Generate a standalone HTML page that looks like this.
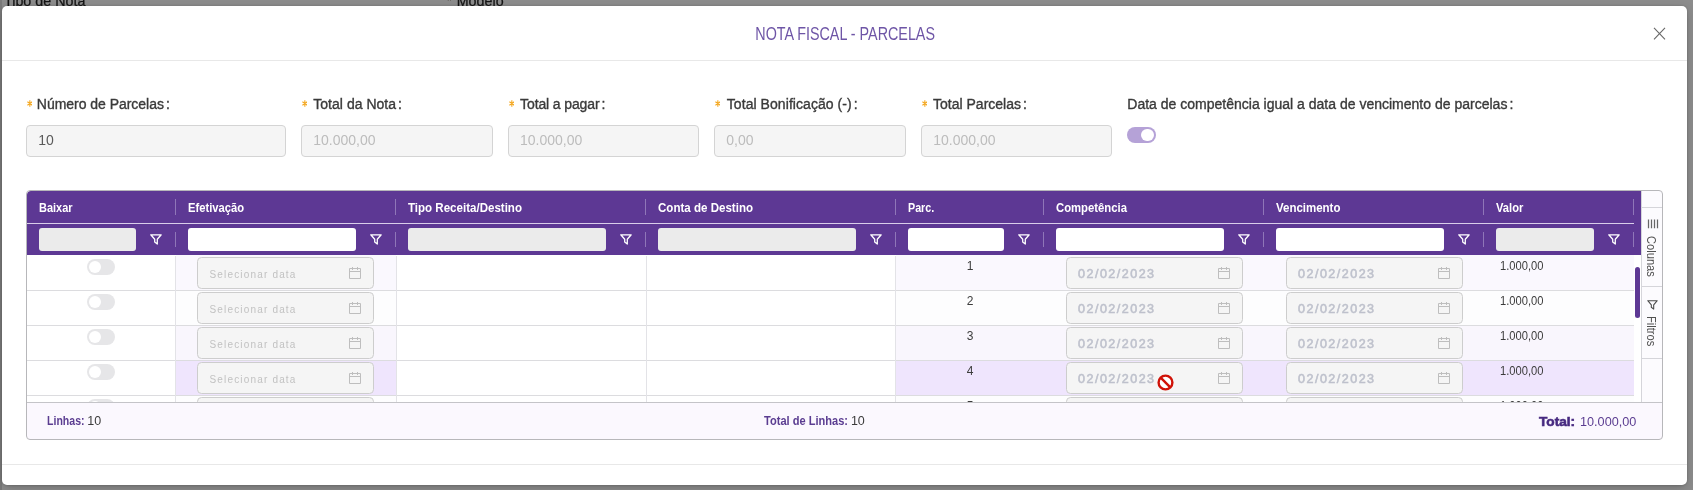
<!DOCTYPE html>
<html><head><meta charset="utf-8"><title>Nota Fiscal - Parcelas</title>
<style>
*{box-sizing:border-box}
html,body{margin:0;padding:0}
body{width:1693px;height:490px;background:#8c8c8c;overflow:hidden;position:relative;font-family:"Liberation Sans",sans-serif;}
.abs{position:absolute}
.bgt{position:absolute;top:-7px;font-size:14.3px;line-height:16px;color:#151515;white-space:nowrap;-webkit-text-stroke:.25px #151515}
.modal{position:absolute;left:2px;top:6px;width:1685px;height:479px;background:#fff;border-radius:5px;box-shadow:0 3px 6px -4px rgba(0,0,0,.2),0 4px 12px 0 rgba(0,0,0,.14),0 0 3px 0 rgba(0,0,0,.18)}
.title{position:absolute;left:0;width:1693px;top:21.7px;margin-left:-1.5px;text-align:center;font-size:19px;color:#6e55a6;white-space:nowrap;line-height:24px}
.title span{display:inline-block;transform:scaleX(.754);transform-origin:50% 50%;letter-spacing:0}
.hline{position:absolute;left:2px;width:1685px;height:1px;background:#e8e8e8}
.lbl{position:absolute;top:96px;font-size:14px;line-height:16px;color:#3a3a3a;white-space:nowrap;-webkit-text-stroke:.35px #3a3a3a}
.lbl i{font-style:normal;color:#f5ab1a;-webkit-text-stroke:0;margin-right:5px;font-size:13px;position:relative;top:1px}
.inp{position:absolute;top:125px;height:32px;border:1px solid #d4d4d4;border-radius:4px;background:#f5f5f5;font-size:14px;line-height:29px;padding-left:11px;color:#bcbcbc}
.grid{position:absolute;left:26px;top:190px;width:1637px;height:250px;border:1px solid #b7b7ba;border-radius:4px;background:transparent}
.hdr{position:absolute;left:26.5px;top:190.5px;width:1614.5px;height:64.5px;background:#5d3894;border-top-left-radius:4px}
.hl{position:absolute;left:27px;top:223px;width:1607px;height:1px;background:#d9cdea}
.ht{position:absolute;top:201px;font-size:12px;line-height:15px;font-weight:bold;color:#fff;white-space:nowrap;transform-origin:0 50%}
.sep{position:absolute;width:1px;background:#8f76b8}
.fi{position:absolute;top:227.5px;height:23.5px;border-radius:3px}
.fn{position:absolute;top:233.5px}
.row{position:absolute;left:27px;width:1607px;height:35px}
.rl{position:absolute;left:27px;width:1607px;height:1px;background:#dcdcdf}
.cell{position:absolute;top:0;height:35px}
.vl{position:absolute;width:1px;background:#e3e3e7}
.sw{position:absolute;left:60px;top:4px;width:28px;height:16px;border-radius:8px;background:#e6e6e8}
.sw:after{content:"";position:absolute;left:1.7px;top:1.7px;width:12.6px;height:12.6px;border-radius:50%;background:#fff}
.dp{position:absolute;top:2px;width:177px;height:32px;border:1px solid #cdcdcd;border-radius:4.5px;background:#f5f5f5;white-space:nowrap}
.dp span{position:absolute;left:11.5px;top:10.4px;font-size:10px;line-height:14px;letter-spacing:1.17px;color:#c2c2c2}
.dp b{position:absolute;left:11px;top:9px;font-size:12.5px;line-height:14px;letter-spacing:1.5px;color:#bec1cc;font-weight:normal;-webkit-text-stroke:.55px #bec1cc}
.cal{position:absolute;left:151px;top:9px}
.num{position:absolute;font-size:12px;line-height:14px;color:#3c3c3c;top:4px;white-space:nowrap;transform-origin:0 50%}
.sb{position:absolute;left:26.5px;top:402px;width:1636px;height:37.5px;background:#fbf8fe;border-top:1px solid #c4c4c8;border-radius:0 0 4px 4px}
.st{position:absolute;top:414px;font-size:12.5px;line-height:15px;white-space:nowrap;transform-origin:0 50%}
.side{position:absolute;left:1641px;top:191px;width:21px;height:211px;background:#fcfbfe;border-left:1px solid #d5d5da}
.vt{position:absolute;font-size:12.5px;line-height:14px;color:#525252;white-space:nowrap;transform-origin:0 0;transform:rotate(90deg) scaleX(.89)}
#wrap{position:absolute;left:0;top:0;width:1693px;height:490px;will-change:transform}
</style></head><body>
<div id="wrap">
<div class="bgt" style="left:4px">Tipo de Nota</div>
<div class="bgt" style="left:446.5px;color:#8a600f;top:-8px">*</div><div class="bgt" style="left:456.7px">Modelo</div>
<div class="abs" style="left:0;top:0;width:2px;height:490px;background:#7a7a7a"></div>
<div class="modal"></div>
<div class="title"><span>NOTA FISCAL - PARCELAS</span></div>
<svg class="abs" style="left:1653px;top:26.5px" width="13" height="13" viewBox="0 0 13 13"><path d="M1 0.8 L12 12.4 M12 0.8 L1 12.4" stroke="#686868" stroke-width="1.1" fill="none"/></svg>
<div class="hline" style="top:60px"></div>
<div class="hline" style="top:464px"></div>

<svg class="abs" style="left:26.75px;top:99.8px" width="5.7" height="7" viewBox="0 0 7 8" preserveAspectRatio="none"><path d="M3.5 0.3 V7.7 M0.5 2 L6.5 6 M6.5 2 L0.5 6" stroke="#f4a71e" stroke-width="1.35" fill="none"/></svg>
<div class="lbl" style="left:36.8px;letter-spacing:-0.03px">Número de Parcelas<span style="margin-left:2px">:</span></div>
<svg class="abs" style="left:301.75px;top:99.8px" width="5.7" height="7" viewBox="0 0 7 8" preserveAspectRatio="none"><path d="M3.5 0.3 V7.7 M0.5 2 L6.5 6 M6.5 2 L0.5 6" stroke="#f4a71e" stroke-width="1.35" fill="none"/></svg>
<div class="lbl" style="left:313.3px;letter-spacing:0.02px">Total da Nota<span style="margin-left:2px">:</span></div>
<svg class="abs" style="left:508.5px;top:99.8px" width="5.7" height="7" viewBox="0 0 7 8" preserveAspectRatio="none"><path d="M3.5 0.3 V7.7 M0.5 2 L6.5 6 M6.5 2 L0.5 6" stroke="#f4a71e" stroke-width="1.35" fill="none"/></svg>
<div class="lbl" style="left:520.0999999999999px;letter-spacing:-0.12px">Total a pagar<span style="margin-left:2px">:</span></div>
<svg class="abs" style="left:714.75px;top:99.8px" width="5.7" height="7" viewBox="0 0 7 8" preserveAspectRatio="none"><path d="M3.5 0.3 V7.7 M0.5 2 L6.5 6 M6.5 2 L0.5 6" stroke="#f4a71e" stroke-width="1.35" fill="none"/></svg>
<div class="lbl" style="left:726.8px;letter-spacing:0.06px">Total Bonificação (-)<span style="margin-left:2px">:</span></div>
<svg class="abs" style="left:921.75px;top:99.8px" width="5.7" height="7" viewBox="0 0 7 8" preserveAspectRatio="none"><path d="M3.5 0.3 V7.7 M0.5 2 L6.5 6 M6.5 2 L0.5 6" stroke="#f4a71e" stroke-width="1.35" fill="none"/></svg>
<div class="lbl" style="left:933.05px;letter-spacing:0.0px">Total Parcelas<span style="margin-left:2px">:</span></div>
<div class="lbl" style="left:1127.3px;letter-spacing:0.005px">Data de competência igual a data de vencimento de parcelas<span style="margin-left:2px">:</span></div>
<div class="inp" style="left:26.25px;width:260px;color:#5a5a5a">10</div>
<div class="inp" style="left:301.25px;width:191.5px">10.000,00</div>
<div class="inp" style="left:508px;width:191px">10.000,00</div>
<div class="inp" style="left:714.25px;width:191.5px">0,00</div>
<div class="inp" style="left:921.25px;width:190.75px">10.000,00</div>
<div class="abs" style="left:1127px;top:127px;width:28.5px;height:16px;border-radius:8px;background:#b5a2d7"><div class="abs" style="right:1.7px;top:1.7px;width:12.6px;height:12.6px;border-radius:50%;background:#fff"></div></div>
<div class="row" style="top:255px;height:35px;overflow:hidden;">
<div class="cell" style="left:0px;width:149px;background:#fff">
<div class="sw"></div>
</div>
<div class="cell" style="left:149px;width:220px;background:#faf8fe">
<div class="dp" style="left:21px"><span>Selecionar data</span><svg class="cal" width="12" height="12" viewBox="0 0 12 12"><path d="M0.5 1.5 H11.5 V11.5 H0.5 Z M0.5 4.5 H11.5 M3.5 0 V3 M8.5 0 V3" fill="none" stroke="#bebebe" stroke-width="1"/></svg></div>
</div>
<div class="cell" style="left:369px;width:250px;background:#fff">
</div>
<div class="cell" style="left:619px;width:250px;background:#fff">
</div>
<div class="cell" style="left:869px;width:148px;background:#faf8fe">
<div class="num" style="left:0;width:148px;text-align:center">1</div>
</div>
<div class="cell" style="left:1017px;width:220px;background:#faf8fe">
<div class="dp" style="left:22px"><b>02/02/2023</b><svg class="cal" width="12" height="12" viewBox="0 0 12 12"><path d="M0.5 1.5 H11.5 V11.5 H0.5 Z M0.5 4.5 H11.5 M3.5 0 V3 M8.5 0 V3" fill="none" stroke="#bebebe" stroke-width="1"/></svg></div>
</div>
<div class="cell" style="left:1237px;width:220px;background:#faf8fe">
<div class="dp" style="left:22px"><b>02/02/2023</b><svg class="cal" width="12" height="12" viewBox="0 0 12 12"><path d="M0.5 1.5 H11.5 V11.5 H0.5 Z M0.5 4.5 H11.5 M3.5 0 V3 M8.5 0 V3" fill="none" stroke="#bebebe" stroke-width="1"/></svg></div>
</div>
<div class="cell" style="left:1457px;width:150px;background:#faf8fe">
<div class="num" style="left:15.8px;transform:scaleX(.93)">1.000,00</div>
</div>
</div>
<div class="row" style="top:290px;height:35px;overflow:hidden;">
<div class="cell" style="left:0px;width:149px;background:#fff">
<div class="sw"></div>
</div>
<div class="cell" style="left:149px;width:220px;background:#fdfdfe">
<div class="dp" style="left:21px"><span>Selecionar data</span><svg class="cal" width="12" height="12" viewBox="0 0 12 12"><path d="M0.5 1.5 H11.5 V11.5 H0.5 Z M0.5 4.5 H11.5 M3.5 0 V3 M8.5 0 V3" fill="none" stroke="#bebebe" stroke-width="1"/></svg></div>
</div>
<div class="cell" style="left:369px;width:250px;background:#fff">
</div>
<div class="cell" style="left:619px;width:250px;background:#fff">
</div>
<div class="cell" style="left:869px;width:148px;background:#fdfdfe">
<div class="num" style="left:0;width:148px;text-align:center">2</div>
</div>
<div class="cell" style="left:1017px;width:220px;background:#fdfdfe">
<div class="dp" style="left:22px"><b>02/02/2023</b><svg class="cal" width="12" height="12" viewBox="0 0 12 12"><path d="M0.5 1.5 H11.5 V11.5 H0.5 Z M0.5 4.5 H11.5 M3.5 0 V3 M8.5 0 V3" fill="none" stroke="#bebebe" stroke-width="1"/></svg></div>
</div>
<div class="cell" style="left:1237px;width:220px;background:#fdfdfe">
<div class="dp" style="left:22px"><b>02/02/2023</b><svg class="cal" width="12" height="12" viewBox="0 0 12 12"><path d="M0.5 1.5 H11.5 V11.5 H0.5 Z M0.5 4.5 H11.5 M3.5 0 V3 M8.5 0 V3" fill="none" stroke="#bebebe" stroke-width="1"/></svg></div>
</div>
<div class="cell" style="left:1457px;width:150px;background:#fdfdfe">
<div class="num" style="left:15.8px;transform:scaleX(.93)">1.000,00</div>
</div>
</div>
<div class="row" style="top:325px;height:35px;overflow:hidden;">
<div class="cell" style="left:0px;width:149px;background:#fff">
<div class="sw"></div>
</div>
<div class="cell" style="left:149px;width:220px;background:#f9f6fd">
<div class="dp" style="left:21px"><span>Selecionar data</span><svg class="cal" width="12" height="12" viewBox="0 0 12 12"><path d="M0.5 1.5 H11.5 V11.5 H0.5 Z M0.5 4.5 H11.5 M3.5 0 V3 M8.5 0 V3" fill="none" stroke="#bebebe" stroke-width="1"/></svg></div>
</div>
<div class="cell" style="left:369px;width:250px;background:#fff">
</div>
<div class="cell" style="left:619px;width:250px;background:#fff">
</div>
<div class="cell" style="left:869px;width:148px;background:#f9f6fd">
<div class="num" style="left:0;width:148px;text-align:center">3</div>
</div>
<div class="cell" style="left:1017px;width:220px;background:#f9f6fd">
<div class="dp" style="left:22px"><b>02/02/2023</b><svg class="cal" width="12" height="12" viewBox="0 0 12 12"><path d="M0.5 1.5 H11.5 V11.5 H0.5 Z M0.5 4.5 H11.5 M3.5 0 V3 M8.5 0 V3" fill="none" stroke="#bebebe" stroke-width="1"/></svg></div>
</div>
<div class="cell" style="left:1237px;width:220px;background:#f9f6fd">
<div class="dp" style="left:22px"><b>02/02/2023</b><svg class="cal" width="12" height="12" viewBox="0 0 12 12"><path d="M0.5 1.5 H11.5 V11.5 H0.5 Z M0.5 4.5 H11.5 M3.5 0 V3 M8.5 0 V3" fill="none" stroke="#bebebe" stroke-width="1"/></svg></div>
</div>
<div class="cell" style="left:1457px;width:150px;background:#f9f6fd">
<div class="num" style="left:15.8px;transform:scaleX(.93)">1.000,00</div>
</div>
</div>
<div class="row" style="top:360px;height:35px;overflow:hidden;">
<div class="cell" style="left:0px;width:149px;background:#fff">
<div class="sw"></div>
</div>
<div class="cell" style="left:149px;width:220px;background:#efe5fd">
<div class="dp" style="left:21px"><span>Selecionar data</span><svg class="cal" width="12" height="12" viewBox="0 0 12 12"><path d="M0.5 1.5 H11.5 V11.5 H0.5 Z M0.5 4.5 H11.5 M3.5 0 V3 M8.5 0 V3" fill="none" stroke="#bebebe" stroke-width="1"/></svg></div>
</div>
<div class="cell" style="left:369px;width:250px;background:#fff">
</div>
<div class="cell" style="left:619px;width:250px;background:#fff">
</div>
<div class="cell" style="left:869px;width:148px;background:#efe5fd">
<div class="num" style="left:0;width:148px;text-align:center">4</div>
</div>
<div class="cell" style="left:1017px;width:220px;background:#efe5fd">
<div class="dp" style="left:22px"><b>02/02/2023</b><svg class="cal" width="12" height="12" viewBox="0 0 12 12"><path d="M0.5 1.5 H11.5 V11.5 H0.5 Z M0.5 4.5 H11.5 M3.5 0 V3 M8.5 0 V3" fill="none" stroke="#bebebe" stroke-width="1"/></svg></div>
</div>
<div class="cell" style="left:1237px;width:220px;background:#efe5fd">
<div class="dp" style="left:22px"><b>02/02/2023</b><svg class="cal" width="12" height="12" viewBox="0 0 12 12"><path d="M0.5 1.5 H11.5 V11.5 H0.5 Z M0.5 4.5 H11.5 M3.5 0 V3 M8.5 0 V3" fill="none" stroke="#bebebe" stroke-width="1"/></svg></div>
</div>
<div class="cell" style="left:1457px;width:150px;background:#efe5fd">
<div class="num" style="left:15.8px;transform:scaleX(.93)">1.000,00</div>
</div>
</div>
<div class="row" style="top:395px;height:7px;overflow:hidden;">
<div class="cell" style="left:0px;width:149px;background:#fff">
<div class="sw"></div>
</div>
<div class="cell" style="left:149px;width:220px;background:#fdfdfe">
<div class="dp" style="left:21px"><span>Selecionar data</span><svg class="cal" width="12" height="12" viewBox="0 0 12 12"><path d="M0.5 1.5 H11.5 V11.5 H0.5 Z M0.5 4.5 H11.5 M3.5 0 V3 M8.5 0 V3" fill="none" stroke="#bebebe" stroke-width="1"/></svg></div>
</div>
<div class="cell" style="left:369px;width:250px;background:#fff">
</div>
<div class="cell" style="left:619px;width:250px;background:#fff">
</div>
<div class="cell" style="left:869px;width:148px;background:#fdfdfe">
<div class="num" style="left:0;width:148px;text-align:center">5</div>
</div>
<div class="cell" style="left:1017px;width:220px;background:#fdfdfe">
<div class="dp" style="left:22px"><b>02/02/2023</b><svg class="cal" width="12" height="12" viewBox="0 0 12 12"><path d="M0.5 1.5 H11.5 V11.5 H0.5 Z M0.5 4.5 H11.5 M3.5 0 V3 M8.5 0 V3" fill="none" stroke="#bebebe" stroke-width="1"/></svg></div>
</div>
<div class="cell" style="left:1237px;width:220px;background:#fdfdfe">
<div class="dp" style="left:22px"><b>02/02/2023</b><svg class="cal" width="12" height="12" viewBox="0 0 12 12"><path d="M0.5 1.5 H11.5 V11.5 H0.5 Z M0.5 4.5 H11.5 M3.5 0 V3 M8.5 0 V3" fill="none" stroke="#bebebe" stroke-width="1"/></svg></div>
</div>
<div class="cell" style="left:1457px;width:150px;background:#fdfdfe">
<div class="num" style="left:15.8px;transform:scaleX(.93)">1.000,00</div>
</div>
</div>
<div class="rl" style="top:290px"></div>
<div class="rl" style="top:325px"></div>
<div class="rl" style="top:360px"></div>
<div class="rl" style="top:395px"></div>
<div class="vl" style="left:175px;top:256px;height:146px"></div>
<div class="vl" style="left:396px;top:256px;height:146px"></div>
<div class="vl" style="left:646px;top:256px;height:146px"></div>
<div class="vl" style="left:895px;top:256px;height:146px"></div>
<div class="hdr"></div><div class="hl"></div>
<div class="ht" style="left:38.6px;transform:scaleX(0.913)">Baixar</div>
<div class="sep" style="left:175px;top:199px;height:16px"></div>
<div class="sep" style="left:175px;top:232px;height:15px"></div>
<div class="fi" style="left:39px;width:97px;background:#ebebeb"></div>
<svg class="fn" style="left:150px" width="12" height="11" viewBox="0 0 12 11"><path d="M0.8 0.8 H11.2 L7.3 5.3 V10 L4.7 8 V5.3 Z" fill="none" stroke="#fff" stroke-width="1.3" stroke-linejoin="round"/></svg>
<div class="ht" style="left:187.6px;transform:scaleX(0.933)">Efetivação</div>
<div class="sep" style="left:395px;top:199px;height:16px"></div>
<div class="sep" style="left:395px;top:232px;height:15px"></div>
<div class="fi" style="left:188px;width:168px;background:#fff"></div>
<svg class="fn" style="left:370px" width="12" height="11" viewBox="0 0 12 11"><path d="M0.8 0.8 H11.2 L7.3 5.3 V10 L4.7 8 V5.3 Z" fill="none" stroke="#fff" stroke-width="1.3" stroke-linejoin="round"/></svg>
<div class="ht" style="left:407.6px;transform:scaleX(0.962)">Tipo Receita/Destino</div>
<div class="sep" style="left:645px;top:199px;height:16px"></div>
<div class="sep" style="left:645px;top:232px;height:15px"></div>
<div class="fi" style="left:408px;width:198px;background:#ebebeb"></div>
<svg class="fn" style="left:620px" width="12" height="11" viewBox="0 0 12 11"><path d="M0.8 0.8 H11.2 L7.3 5.3 V10 L4.7 8 V5.3 Z" fill="none" stroke="#fff" stroke-width="1.3" stroke-linejoin="round"/></svg>
<div class="ht" style="left:657.6px;transform:scaleX(0.963)">Conta de Destino</div>
<div class="sep" style="left:895px;top:199px;height:16px"></div>
<div class="sep" style="left:895px;top:232px;height:15px"></div>
<div class="fi" style="left:658px;width:198px;background:#ebebeb"></div>
<svg class="fn" style="left:870px" width="12" height="11" viewBox="0 0 12 11"><path d="M0.8 0.8 H11.2 L7.3 5.3 V10 L4.7 8 V5.3 Z" fill="none" stroke="#fff" stroke-width="1.3" stroke-linejoin="round"/></svg>
<div class="ht" style="left:907.6px;transform:scaleX(0.894)">Parc.</div>
<div class="sep" style="left:1043px;top:199px;height:16px"></div>
<div class="sep" style="left:1043px;top:232px;height:15px"></div>
<div class="fi" style="left:908px;width:96px;background:#fff"></div>
<svg class="fn" style="left:1018px" width="12" height="11" viewBox="0 0 12 11"><path d="M0.8 0.8 H11.2 L7.3 5.3 V10 L4.7 8 V5.3 Z" fill="none" stroke="#fff" stroke-width="1.3" stroke-linejoin="round"/></svg>
<div class="ht" style="left:1055.6px;transform:scaleX(0.942)">Competência</div>
<div class="sep" style="left:1263px;top:199px;height:16px"></div>
<div class="sep" style="left:1263px;top:232px;height:15px"></div>
<div class="fi" style="left:1056px;width:168px;background:#fff"></div>
<svg class="fn" style="left:1238px" width="12" height="11" viewBox="0 0 12 11"><path d="M0.8 0.8 H11.2 L7.3 5.3 V10 L4.7 8 V5.3 Z" fill="none" stroke="#fff" stroke-width="1.3" stroke-linejoin="round"/></svg>
<div class="ht" style="left:1275.6px;transform:scaleX(0.957)">Vencimento</div>
<div class="sep" style="left:1483px;top:199px;height:16px"></div>
<div class="sep" style="left:1483px;top:232px;height:15px"></div>
<div class="fi" style="left:1276px;width:168px;background:#fff"></div>
<svg class="fn" style="left:1458px" width="12" height="11" viewBox="0 0 12 11"><path d="M0.8 0.8 H11.2 L7.3 5.3 V10 L4.7 8 V5.3 Z" fill="none" stroke="#fff" stroke-width="1.3" stroke-linejoin="round"/></svg>
<div class="ht" style="left:1495.6px;transform:scaleX(0.93)">Valor</div>
<div class="sep" style="left:1633px;top:199px;height:16px"></div>
<div class="sep" style="left:1633px;top:232px;height:15px"></div>
<div class="fi" style="left:1496px;width:98px;background:#ebebeb"></div>
<svg class="fn" style="left:1608px" width="12" height="11" viewBox="0 0 12 11"><path d="M0.8 0.8 H11.2 L7.3 5.3 V10 L4.7 8 V5.3 Z" fill="none" stroke="#fff" stroke-width="1.3" stroke-linejoin="round"/></svg>
<div class="abs" style="left:1635px;top:267px;width:5px;height:51px;border-radius:3px;background:#5d3894"></div>
<div class="side"></div>
<div class="abs" style="left:1642px;top:207px;width:20px;height:1px;background:#d5d5da"></div>
<div class="abs" style="left:1642px;top:286px;width:20px;height:1px;background:#d5d5da"></div>
<div class="abs" style="left:1642px;top:357.5px;width:20px;height:1px;background:#d5d5da"></div>
<svg class="abs" style="left:1646.5px;top:219px" width="12" height="10" viewBox="0 0 12 10"><path d="M1.5 0.4 V9.2 M4.5 0.4 V9.2 M7.5 0.4 V9.2 M10.5 0.4 V9.2" stroke="#666" stroke-width="1.25"/></svg>
<div class="vt" style="left:1658px;top:235.5px">Colunas</div>
<svg class="abs" style="left:1647px;top:299.5px" width="11" height="10" viewBox="0 0 12 11"><path d="M0.8 0.8 H11.2 L7.3 5.3 V10 L4.7 8 V5.3 Z" fill="none" stroke="#4a4a4a" stroke-width="1.2" stroke-linejoin="round"/></svg>
<div class="vt" style="left:1658px;top:316.3px">Filtros</div>
<div class="sb"></div>
<div class="st" style="left:47px;font-weight:bold;color:#5b3d91;transform:scaleX(.844)">Linhas:</div>
<div class="st" style="left:87.2px;color:#3c3c3c">10</div>
<div class="st" style="left:763.6px;font-weight:bold;color:#5b3d91;transform:scaleX(.885)">Total de Linhas:</div>
<div class="st" style="left:850.9px;color:#3c3c3c">10</div>
<div class="st" style="left:1539.3px;font-size:13px;font-weight:bold;color:#472a80;-webkit-text-stroke:.6px #472a80;transform:scaleX(1.05)">Total:</div>
<div class="st" style="left:1579.6px;font-size:13px;color:#5b3d91;transform:scaleX(.975)">10.000,00</div>
<div class="grid"></div>
<svg class="abs" style="left:1156.5px;top:373.5px" width="17" height="17" viewBox="0 0 17 17"><circle cx="8.5" cy="8.5" r="6.9" fill="#fff" stroke="#d01208" stroke-width="2.4"/><path d="M3.7 3.7 L13.3 13.3" stroke="#d01208" stroke-width="2.4"/></svg>
</div></body></html>
